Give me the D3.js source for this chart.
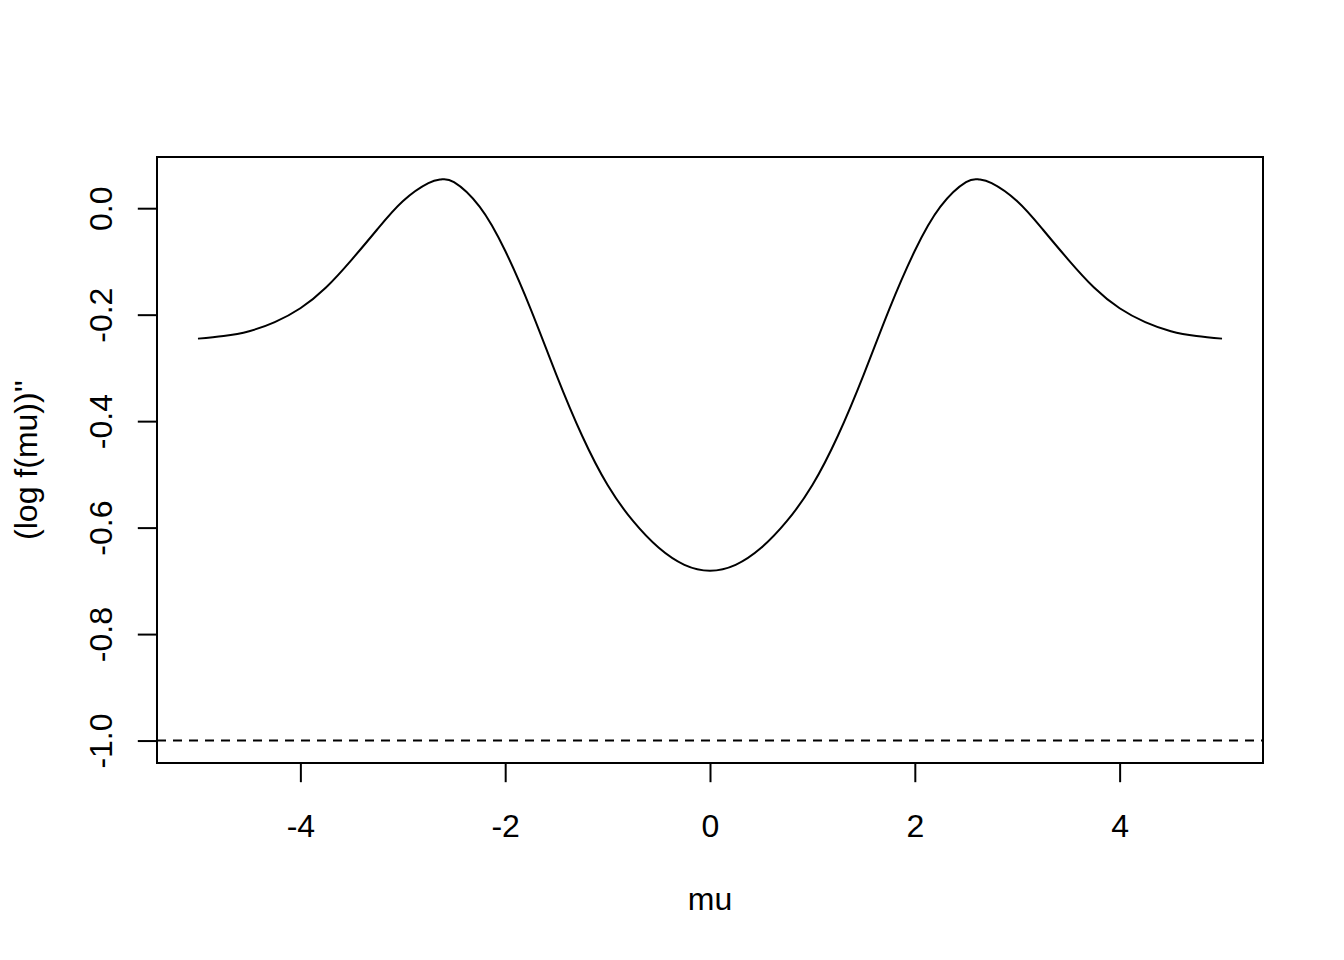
<!DOCTYPE html>
<html lang="en">
<head>
    <meta charset="UTF-8" />
    <title>(log f(mu))''</title>
    <script src="https://d3js.org/d3.v7.min.js"></script>
    <style>
        body {
            margin: 0;
            background: #fff;
        }
        svg text {
            font-family: "Liberation Sans", Arial, Helvetica, sans-serif;
            font-size: 32px;
            fill: #000;
        }
    </style>
</head>
<body>
<svg id="chart"></svg>

<script>
    // values (left half; the curve is symmetric)
    const muLeft = [-5, -4.75, -4.5, -4.25, -4, -3.75, -3.5, -3.25, -3, -2.75, -2.625, -2.5,
        -2.25, -2, -1.75, -1.5, -1.25, -1, -0.75, -0.5, -0.25, 0];
    const valLeft = [-0.245, -0.240, -0.231, -0.214, -0.188, -0.149, -0.097, -0.040, 0.013, 0.047, 0.054, 0.049,
        0.003, -0.080, -0.190, -0.313, -0.427, -0.520, -0.588, -0.638, -0.670, -0.681];

    const xTicks = [-4, -2, 0, 2, 4];
    const yTicks = [-1.0, -0.8, -0.6, -0.4, -0.2, 0.0];
    const refLine = -1;

    const xLabel = "mu";
    const yLabel = "(log f(mu))''";

    // mirror the left half to get the full curve
    const points = muLeft.map((m, i) => ({ mu: m, v: valLeft[i] }));
    for (let i = muLeft.length - 2; i >= 0; i--) {
        points.push({ mu: -muLeft[i], v: valLeft[i] });
    }

    const width = 1344;
    const height = 960;
    const margin = { top: 157, right: 81, bottom: 197, left: 157 };
    const lineH = 38.4;

    const svg = d3.select("#chart")
        .attr("width", width)
        .attr("height", height);

    // R style: extend the data range by 4% on each side
    const xr = d3.extent(points, d => d.mu);
    const yr = d3.extent(points.map(d => d.v).concat([refLine]));
    const xPad = (xr[1] - xr[0]) * 0.04;
    const yPad = (yr[1] - yr[0]) * 0.04;

    const x = d3.scaleLinear()
        .domain([xr[0] - xPad, xr[1] + xPad])
        .range([margin.left, width - margin.right]);

    const y = d3.scaleLinear()
        .domain([yr[0] - yPad, yr[1] + yPad])
        .range([height - margin.bottom, margin.top]);

    svg.append("clipPath").attr("id", "plotclip")
        .append("rect")
        .attr("x", margin.left)
        .attr("y", margin.top)
        .attr("width", width - margin.left - margin.right)
        .attr("height", height - margin.top - margin.bottom);

    // dashed reference line
    svg.append("line")
        .attr("clip-path", "url(#plotclip)")
        .attr("x1", margin.left)
        .attr("x2", width - margin.right)
        .attr("y1", y(refLine))
        .attr("y2", y(refLine))
        .attr("stroke", "#000")
        .attr("stroke-width", 2)
        .attr("stroke-dasharray", "9,7");

    // the curve
    const line = d3.line()
        .x(d => x(d.mu))
        .y(d => y(d.v))
        .curve(d3.curveNatural);

    svg.append("path")
        .datum(points)
        .attr("fill", "none")
        .attr("stroke", "#000")
        .attr("stroke-width", 2)
        .attr("d", line);

    // box
    svg.append("rect")
        .attr("x", margin.left)
        .attr("y", margin.top)
        .attr("width", width - margin.left - margin.right)
        .attr("height", height - margin.top - margin.bottom)
        .attr("fill", "none")
        .attr("stroke", "#000")
        .attr("stroke-width", 2);

    // x axis
    const xAxis = svg.append("g")
        .attr("transform", `translate(0,${height - margin.bottom})`)
        .call(d3.axisBottom(x).tickValues(xTicks).tickSize(lineH / 2));
    xAxis.select(".domain").remove();
    xAxis.selectAll(".tick line").attr("stroke", "#000").attr("stroke-width", 2);
    xAxis.selectAll(".tick text")
        .attr("y", 74)
        .attr("dy", null)
        .text(d => d3.format("d")(d).replace("−", "-"));

    // y axis, labels turned like R does
    const yAxis = svg.append("g")
        .attr("transform", `translate(${margin.left},0)`)
        .call(d3.axisLeft(y).tickValues(yTicks).tickSize(lineH / 2));
    yAxis.select(".domain").remove();
    yAxis.selectAll(".tick line").attr("stroke", "#000").attr("stroke-width", 2);
    yAxis.selectAll(".tick text")
        .attr("x", null)
        .attr("dy", null)
        .attr("text-anchor", "middle")
        .attr("transform", "translate(-45,0) rotate(-90)")
        .text(d => d3.format(".1f")(d).replace("−", "-"));

    // d3 axis sets its own font on the group; let the stylesheet win
    svg.selectAll("g").attr("font-size", null).attr("font-family", null);

    // axis titles
    svg.append("text")
        .attr("x", (margin.left + width - margin.right) / 2)
        .attr("y", height - margin.bottom + 147)
        .attr("text-anchor", "middle")
        .text(xLabel);

    svg.append("text")
        .attr("transform", `translate(${margin.left - 120},${(margin.top + height - margin.bottom) / 2}) rotate(-90)`)
        .attr("text-anchor", "middle")
        .text(yLabel);
</script>
</body>
</html>
